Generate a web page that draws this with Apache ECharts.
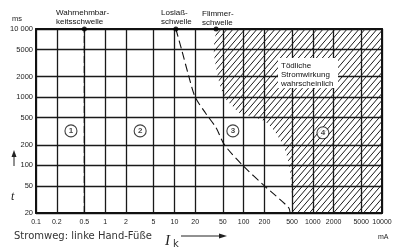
<!DOCTYPE html>
<html><head><meta charset="utf-8">
<script src="https://cdn.jsdelivr.net/npm/echarts@6/dist/echarts.min.js"></script>
<style>html,body{margin:0;padding:0;background:#fff}#c{width:400px;height:249px}</style>
</head><body><div id="c"></div>
<script>
// ---- data ----
const xTicks = [0.1,0.2,0.5,1,2,5,10,20,50,100,200,500,1000,2000,5000,10000];
const xTickLabels = ['0.1','0.2','0.5','1','2','5','10','20','50','100','200','500','1000','2000','5000','10000'];
const yTicks = [20,50,100,200,500,1000,2000,5000,10000];
const yTickLabels = ['20','50','100','200','500','1000','2000','5000','10 000'];
// Wahrnehmbarkeitsschwelle (mA, ms)
const perceptionLine = [[0.5,20],[0.5,10000]];
// Loslaßschwelle (mA, ms)
const letGoCurve = [[10.5,10000],[12.7,5000],[16.2,2000],[20,1000],[28,590],[40,356],[53,200],[100,97],[200,50],[448,24],[470,20]];
// Flimmerschwelle (mA, ms)
const fibrillationCurve = [[40,10000],[37,5000],[40,2780],[45,1570],[53,1000],[70,730],[88,585],[152,500],[215,422],[289,301],[373,193],[448,110],[482,58],[516,20]];
const thresholdDots = [[0.5,10000],[10.5,10000],[40,10000]];
const zoneLabels = ['1','2','3','4'];
const zonePositions = [[0.32,320],[3.2,320],[70,320],[1400,300]];

function lookup(ticks, labels, v){
  for (let i=0;i<ticks.length;i++){ if (Math.abs(Math.log10(v)-Math.log10(ticks[i]))<1e-6) return labels[i]; }
  return '';
}

// hatch pattern
const pc = document.createElement('canvas');
pc.width = 6; pc.height = 7;
const g = pc.getContext('2d');
g.strokeStyle = '#1a1a1a'; g.lineWidth = 1;
g.beginPath();
g.moveTo(-1, 7 + 7/6); g.lineTo(7, -7/6);
g.moveTo(-7, 7 + 7/6); g.lineTo(1, -7/6);
g.moveTo(5, 7 + 7/6); g.lineTo(13, -7/6);
g.stroke();
const hatch = {image: pc, repeat: 'repeat'};

const FONT = 'Liberation Sans, Arial, sans-serif';
const chart = echarts.init(document.getElementById('c'), null, {renderer:'canvas'});
const axisCommon = {type:'log', logBase:10};
chart.setOption({
  animation:false,
  backgroundColor:'#fff',
  grid:{left:36, right:18, top:29, bottom:36},
  xAxis:[{
    ...axisCommon, min:0.1, max:10000,
    axisLine:{show:true, onZero:false, lineStyle:{color:'#111', width:2}},
    axisTick:{show:false, customValues:xTicks},
    splitLine:{show:true, lineStyle:{color:'#1a1a1a', width:1.3}},
    axisLabel:{customValues:xTicks, formatter:v=>lookup(xTicks,xTickLabels,v), fontSize:7, color:'#222', margin:6, fontFamily:FONT}
  },{
    ...axisCommon, min:0.1, max:10000, position:'top',
    axisLine:{show:true, onZero:false, lineStyle:{color:'#111', width:2}},
    axisTick:{show:false}, axisLabel:{show:false}, splitLine:{show:false}
  }],
  yAxis:[{
    ...axisCommon, min:20, max:10000,
    axisLine:{show:true, onZero:false, lineStyle:{color:'#111', width:2}},
    axisTick:{show:false, customValues:yTicks},
    splitLine:{show:true, lineStyle:{color:'#1a1a1a', width:1.3}},
    axisLabel:{customValues:yTicks, formatter:v=>lookup(yTicks,yTickLabels,v), fontSize:7.5, color:'#222', margin:3, fontFamily:FONT}
  },{
    ...axisCommon, min:20, max:10000, position:'right',
    axisLine:{show:true, onZero:false, lineStyle:{color:'#111', width:2}},
    axisTick:{show:false}, axisLabel:{show:false}, splitLine:{show:false}
  }],
  series:[
    {
      type:'custom', coordinateSystem:'cartesian2d', data:fibrillationCurve, silent:true, z:1, clip:true,
      renderItem:(params, api)=>{
        if (params.dataIndex !== 0) return null;
        const first = fibrillationCurve[0], last = fibrillationCurve[fibrillationCurve.length-1];
        const pts = [api.coord([first[0], 100000])].concat(fibrillationCurve.map(p=>api.coord(p)));
        pts.push(api.coord([last[0], 5]), api.coord([100000,5]), api.coord([100000,100000]));
        return {type:'polygon', shape:{points:pts, smooth:0.35}, style:{fill:hatch, stroke:null}};
      }
    },
    {type:'line', data:perceptionLine, showSymbol:false, symbol:'none', lineStyle:{color:'#111', width:1.3, type:[7,3]}, z:3},
    {type:'line', data:letGoCurve, showSymbol:false, symbol:'none', smooth:0.3, lineStyle:{color:'#111', width:1.1, type:[8,4]}, z:3},
    {type:'scatter', data:thresholdDots, symbolSize:5, itemStyle:{color:'#000'}, clip:false, z:5},
    {type:'scatter', data:zonePositions.map((p,i)=>({value:p, name:zoneLabels[i]})), symbolSize:12,
     itemStyle:{color:'#fff', borderColor:'#111', borderWidth:1.1},
     label:{show:true, position:'inside', formatter:p=>p.name, fontSize:8, fontWeight:'bold', color:'#111', fontFamily:FONT}, z:6}
  ],
  graphic:[
    {type:'text', z:100, style:{text:'ms', x:12, y:19, font:'7.5px '+FONT, fill:'#222', textVerticalAlign:'middle'}},
    {type:'text', z:100, style:{text:'Wahrnehmbar-\nkeitsschwelle', x:56, y:8, font:'8px '+FONT, fill:'#111', lineHeight:9}},
    {type:'text', z:100, style:{text:'Loslaß-\nschwelle', x:161, y:8, font:'8px '+FONT, fill:'#111', lineHeight:9}},
    {type:'text', z:100, style:{text:'Flimmer-\nschwelle', x:202, y:9, font:'8px '+FONT, fill:'#111', lineHeight:9}},
    {type:'rect', z:99, shape:{x:278, y:58, width:60, height:30}, style:{fill:'#fff'}},
    {type:'text', z:100, style:{text:'Tödliche\nStromwirkung\nwahrscheinlich', x:281, y:61, font:'8px '+FONT, fill:'#111', lineHeight:9}},
    {type:'text', z:100, style:{text:'Stromweg: linke Hand-Füße', x:14, y:236, font:'10px DejaVu Sans, sans-serif', fill:'#333', textVerticalAlign:'middle'}},
    {type:'text', z:100, style:{text:'I', x:165, y:241, font:'italic 15px Liberation Serif, serif', fill:'#222', textVerticalAlign:'middle'}},
    {type:'text', z:100, style:{text:'k', x:173, y:244, font:'10px DejaVu Sans, sans-serif', fill:'#333', textVerticalAlign:'middle'}},
    {type:'line', z:100, shape:{x1:181, y1:236, x2:222, y2:236}, style:{stroke:'#222', lineWidth:1}},
    {type:'polygon', z:100, shape:{points:[[227,236],[219,233.5],[219,238.5]]}, style:{fill:'#222'}},
    {type:'text', z:100, style:{text:'mA', x:378, y:237, font:'7px '+FONT, fill:'#222', textVerticalAlign:'middle'}},
    {type:'line', z:100, shape:{x1:14, y1:166, x2:14, y2:155}, style:{stroke:'#222', lineWidth:1}},
    {type:'polygon', z:100, shape:{points:[[14,150],[11.5,157],[16.5,157]]}, style:{fill:'#222'}},
    {type:'text', z:100, style:{text:'t', x:11, y:197, font:'italic 12px Liberation Serif, serif', fill:'#222', textVerticalAlign:'middle'}}
  ]
});
</script>
</body></html>
